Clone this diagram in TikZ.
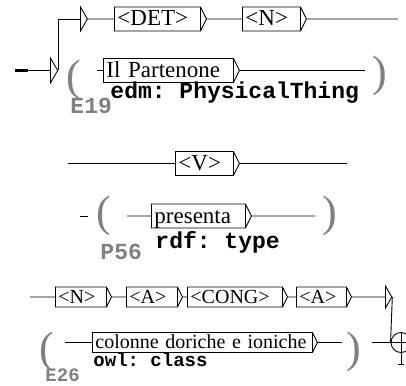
\documentclass[tikz,border=0pt]{standalone}
\usepackage{fontspec}
\setmainfont{Liberation Serif}
\setmonofont{Liberation Mono}
\usetikzlibrary{shapes.symbols}

\tikzset{
  unit/.style={draw, signal, signal to=east, signal pointer angle=127,
    inner xsep=3pt, inner ysep=4pt, anchor=west, align=left,
    font=\fontsize{23}{23}\selectfont, text height=15pt, text depth=1pt,
    append after command={([xshift=-6pt,yshift=12pt]\tikzlastnode.east) edge ([xshift=-6pt,yshift=-12pt]\tikzlastnode.east)}},
  unitsm/.style={draw, signal, signal to=east, signal pointer angle=127,
    inner xsep=3pt, inner ysep=3pt, anchor=west, align=left,
    font=\fontsize{20}{20}\selectfont, text height=13pt, text depth=1pt,
    append after command={([xshift=-5pt,yshift=10pt]\tikzlastnode.east) edge ([xshift=-5pt,yshift=-10pt]\tikzlastnode.east)}},
  ebox/.style={draw, signal, signal to=east, signal pointer angle=120,
    inner xsep=0pt, inner ysep=12.5pt, minimum width=0pt, anchor=west},
  paren/.style={text=gray, font=\fontsize{44}{44}\selectfont, inner sep=0pt},
  sem/.style={font=\ttfamily\bfseries\fontsize{23}{23}\selectfont, anchor=base west, inner sep=0pt},
  tag/.style={sem, text=gray},
  semsm/.style={sem, font=\ttfamily\bfseries\fontsize{19}{19}\selectfont},
  tagsm/.style={semsm, text=gray}
}

\begin{document}
\begin{tikzpicture}[x=1pt, y=-1pt, line width=0.9pt]
\useasboundingbox (0,0) rectangle (406,385);
\clip (0,0) rectangle (406,385);

% Il Partenone
\coordinate (start) at (15,70.5);
\node[ebox] (e1) at (50,70.5) {};
\node[ebox, inner ysep=12pt] (e2) at (80,19) {};
\node[unit, text width=80pt] (det) at (114,19) {<DET>};
\node[unit, text width=52pt] (n) at (242,19) {<N>};
\coordinate (nend) at (398,19);

\draw[line width=2.5pt] (start) -- ++(13,0);
\draw (start) -- (e1);
\draw (e1.east) |- (e2.west);
\draw (e2) -- (det);
\draw (det) -- (n);
\draw (n) -- (nend);

\node[paren] (po1) at (74,80) {(};
\coordinate (il0) at (97,70.5);
\node[unit, text width=124pt] (il) at (103,70.5) {Il Partenone};
\coordinate (ilend) at (365,70.5);
\node[paren] (pc1) at (380,76) {)};
\node[sem] (edm) at (110,99) {edm: PhysicalThing};
\node[tag] (e19) at (70,113) {E19};

\draw (il0) -- (il);
\draw (il) -- (ilend);

% presenta
\coordinate (v0) at (68,163.5);
\node[unit, text width=52pt] (v) at (175,163.5) {<V>};
\coordinate (vend) at (347,163.5);

\draw (v0) -- (v);
\draw (v) -- (vend);

\coordinate (m0) at (80,216);
\coordinate (m1) at (88,216);
\node[paren] (po2) at (104,216) {(};
\coordinate (p0) at (127,216);
\node[unit, text width=88pt] (pres) at (151,216) {presenta};
\coordinate (presend) at (315,216);
\node[paren] (pc2) at (330,216) {)};
\node[sem] (rdf) at (155,248) {rdf: type};
\node[tag] (p56) at (100,259) {P56};

\draw (m0) -- (m1);
\draw (p0) -- (pres);
\draw (pres) -- (presend);

% colonne doriche e ioniche
\coordinate (b0) at (30,297);
\node[unitsm, text width=45pt] (bn) at (55,297) {<N>};
\node[unitsm, text width=45pt] (ba1) at (126,297) {<A>};
\node[unitsm, text width=89pt] (cong) at (187,297) {<CONG>};
\node[unitsm, text width=44pt] (ba2) at (296,297) {<A>};
\node[ebox, inner ysep=11pt] (e3) at (385,297) {};

\draw (b0) -- (bn);
\draw (bn) -- (ba1);
\draw (ba1) -- (cong);
\draw (cong) -- (ba2);
\draw (ba2) -- (e3);

\node[paren] (po3) at (47,352) {(};
\coordinate (c0) at (65,342.5);
\node[unitsm, text width=214pt] (col) at (92,342.5) {colonne doriche e ioniche};
\coordinate (cend) at (342,342.5);
\node[paren] (pc3) at (354,352) {)};
\node[semsm] (owl) at (93,366) {owl: class};
\node[tagsm] (e26) at (45,381) {E26};
\coordinate (c3) at (372,342.5);
\node[draw, circle, minimum size=20pt, inner sep=0pt] (fin) at (401,342.5) {};

\draw (c0) -- (col);
\draw (col) -- (cend);
\draw (e3.east) -- (fin.west);
\draw (c3) -- (fin.east);
\draw (fin.north) -- ++(0,32) ++(-3,0) -- ++(6,0);

\end{tikzpicture}
\end{document}
